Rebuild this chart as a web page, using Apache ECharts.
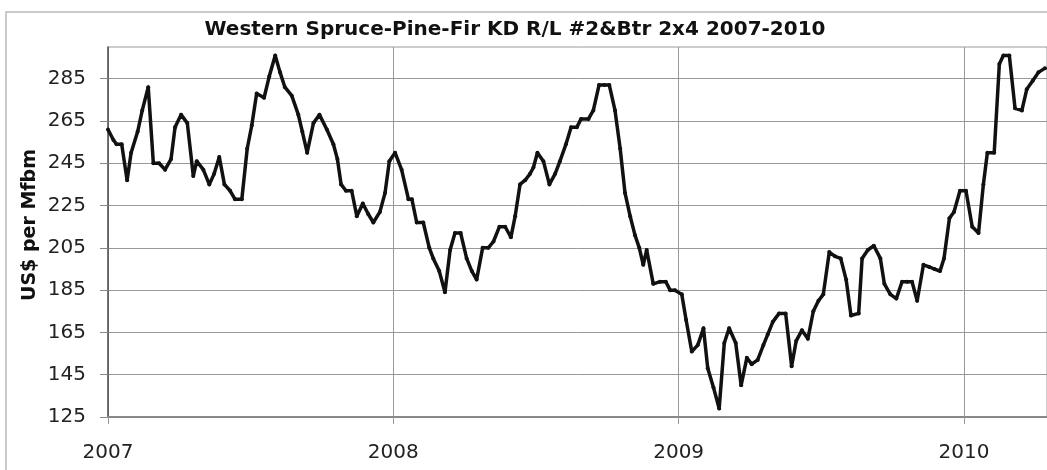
<!DOCTYPE html>
<html><head><meta charset="utf-8">
<script src="https://cdn.jsdelivr.net/npm/echarts@6/dist/echarts.min.js"></script>
<style>html,body{margin:0;padding:0;background:#fff}#c{width:1047px;height:470px}</style>
</head><body><div id="c"></div>
<script>
const years = [
2007.000,2007.019,2007.030,2007.048,2007.067,2007.081,2007.104,2007.120,2007.141,2007.159,
2007.179,2007.200,2007.221,2007.235,2007.256,2007.278,2007.299,2007.311,2007.334,2007.355,
2007.372,2007.390,2007.408,2007.428,2007.445,2007.469,2007.488,2007.504,2007.521,2007.547,
2007.565,2007.586,2007.603,2007.620,2007.644,2007.667,2007.681,2007.698,2007.720,2007.741,
2007.767,2007.790,2007.804,2007.817,2007.834,2007.854,2007.872,2007.893,2007.912,2007.930,
2007.953,2007.971,2007.986,2008.006,2008.029,2008.053,2008.065,2008.082,2008.105,2008.126,
2008.140,2008.161,2008.181,2008.199,2008.216,2008.236,2008.257,2008.275,2008.292,2008.313,
2008.333,2008.351,2008.372,2008.392,2008.412,2008.427,2008.444,2008.462,2008.479,2008.491,
2008.505,2008.526,2008.547,2008.567,2008.584,2008.605,2008.623,2008.643,2008.658,2008.684,
2008.701,2008.721,2008.740,2008.757,2008.777,2008.795,2008.812,2008.830,2008.847,2008.862,
2008.876,2008.888,2008.911,2008.935,2008.955,2008.970,2008.987,2009.011,2009.026,2009.046,
2009.067,2009.087,2009.102,2009.122,2009.142,2009.160,2009.177,2009.200,2009.219,2009.239,
2009.256,2009.277,2009.297,2009.312,2009.330,2009.352,2009.375,2009.396,2009.412,2009.432,
2009.453,2009.472,2009.490,2009.507,2009.528,2009.548,2009.568,2009.587,2009.604,2009.631,
2009.643,2009.663,2009.684,2009.707,2009.721,2009.742,2009.763,2009.783,2009.801,2009.818,
2009.836,2009.858,2009.878,2009.896,2009.916,2009.930,2009.949,2009.965,2009.986,2010.007,
2010.029,2010.051,2010.068,2010.082,2010.106,2010.124,2010.138,2010.159,2010.179,2010.203,
2010.220,2010.241,2010.261,2010.284
];
const prices = [
261,256,254,254,237,250,260,270,281,245,
245,242,247,262,268,264,239,246,242,235,
240,248,235,232,228,228,252,263,278,276,
286,296,288,281,277,268,260,250,264,268,
261,254,247,235,232,232,220,226,221,217,
222,231,246,250,242,228,228,217,217,205,
200,194,184,204,212,212,200,194,190,205,
205,208,215,215,210,220,235,237,240,243,
250,246,235,240,246,254,262,262,266,266,
270,282,282,282,270,252,231,220,211,205,
197,204,188,189,189,185,185,183,171,156,
159,167,148,139,129,160,167,160,140,153,
150,152,159,164,170,174,174,149,161,166,
162,175,180,183,203,201,200,190,173,174,
200,204,206,200,188,183,181,189,189,189,
180,197,196,195,194,200,219,222,232,232,
215,212,235,250,250,292,296,296,271,270,
280,284,288,290
];
const yTicks = [125,145,165,185,205,225,245,265,285];
const xTicks = [2007,2008,2009,2010];
const titleText = 'Western Spruce-Pine-Fir KD R/L #2&Btr 2x4 2007-2010';
const yName = 'US$ per Mfbm';

const seriesData = years.map((t, i) => [t, prices[i]]);

const chart = echarts.init(document.getElementById('c'), null, {renderer: 'canvas'});
chart.setOption({
  animation: false,
  backgroundColor: '#fff',
  title: {
    text: titleText, left: 515, top: 20, textAlign: 'center', padding: 0,
    textStyle: {fontFamily: 'DejaVu Sans', fontWeight: 'bold', fontSize: 20, color: '#111'}
  },
  graphic: [
    {type: 'rect', z: -10, silent: true, shape: {x: 6, y: 12, width: 1200, height: 600},
     style: {fill: 'none', stroke: '#bbb', lineWidth: 1.5}},
    {type: 'text', x: 30, y: 225, rotation: Math.PI / 2, silent: true,
     style: {text: yName, align: 'center', verticalAlign: 'middle',
             font: 'bold 19px "DejaVu Sans"', fill: '#111'}}
  ],
  grid: {left: 108, right: 0, top: 47, bottom: 53, show: true, borderColor: '#999', borderWidth: 1},
  xAxis: {
    type: 'value', min: 2007, max: 2010.291,
    axisLine: {show: true, lineStyle: {color: '#888', width: 2}},
    axisTick: {show: true, customValues: xTicks, length: 7, lineStyle: {color: '#999', width: 1}},
    axisLabel: {customValues: xTicks, margin: 26, fontFamily: 'DejaVu Sans', fontSize: 20, color: '#222',
                formatter: v => String(Math.round(v))},
    splitLine: {show: true, lineStyle: {color: '#999', width: 1}}
  },
  yAxis: {
    type: 'value', min: 125, max: 300,
    axisLine: {show: true, lineStyle: {color: '#555', width: 1.5}},
    axisTick: {show: true, customValues: yTicks, length: 8, lineStyle: {color: '#888', width: 1}},
    axisLabel: {customValues: yTicks, margin: 22, fontFamily: 'DejaVu Sans', fontSize: 20, color: '#222'},
    splitLine: {show: true, lineStyle: {color: '#999', width: 1}}
  },
  series: [{
    type: 'line', data: seriesData, showAllSymbol: true,
    symbol: 'circle', symbolSize: 4,
    lineStyle: {color: '#111', width: 3.5, join: 'round'},
    itemStyle: {color: '#111'},
    clip: true
  }]
});
</script></body></html>
